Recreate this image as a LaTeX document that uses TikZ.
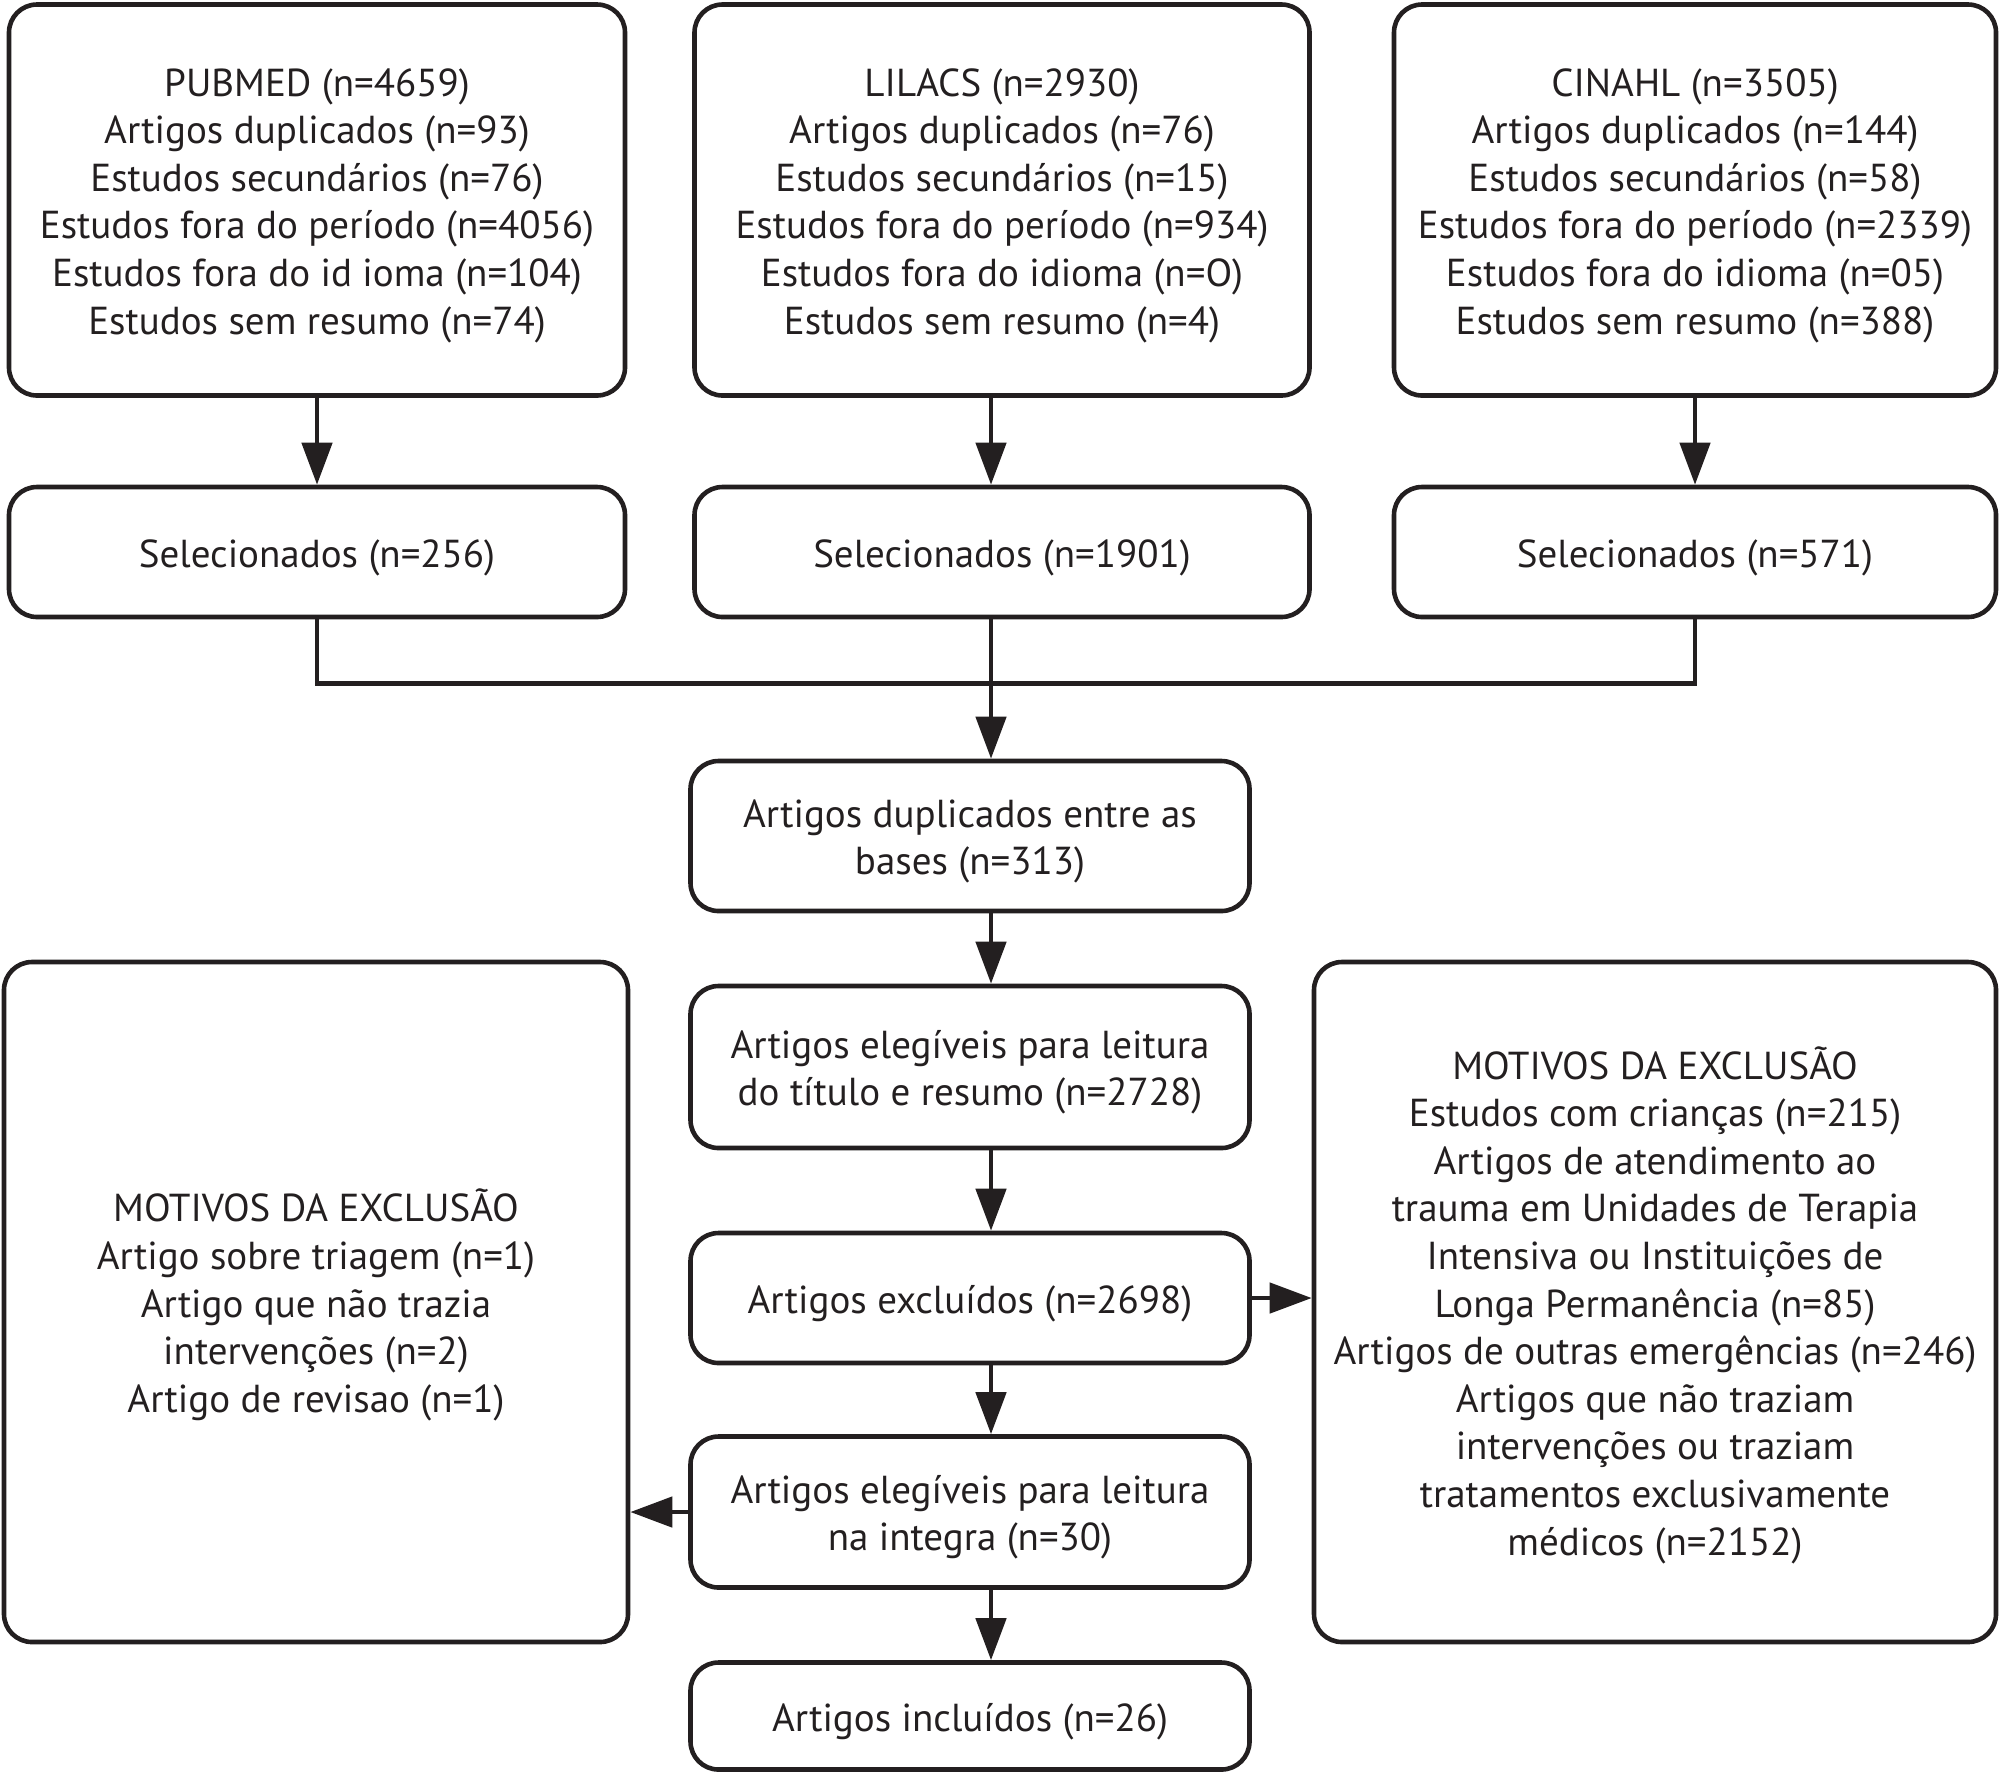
\documentclass[tikz,border=0pt]{standalone}
\usepackage{fontspec}
\setmainfont{PT Sans}
\usetikzlibrary{arrows.meta,calc}
\definecolor{ink}{HTML}{231F20}
\newcommand{\bxt}[1]{\raisebox{-2.8pt}[\height][\depth]{\begin{tabular}{@{}c@{}}#1\end{tabular}}}
\begin{document}
\begin{tikzpicture}[x=0.5pt,y=-0.5pt,
  box/.style={draw=ink,line width=2.3pt,rounded corners=14pt,align=center,
    inner sep=0pt,text=ink,font=\fontsize{19.5}{23.8}\selectfont},
  conn/.style={draw=ink,line width=2.3pt},
  arr/.style={conn,-{Triangle[length=21pt,width=15pt]}}]
\useasboundingbox (0,0) rectangle (2000,1774);
\coordinate (ax) at (991,0);
\node[box,minimum width=308pt,minimum height=195.5pt] (pub) at (317,200) {\bxt{PUBMED (n=4659)\\Artigos duplicados (n=93)\\Estudos secundários (n=76)\\Estudos fora do período (n=4056)\\Estudos fora do id ioma (n=104)\\Estudos sem resumo (n=74)}};
\node[box,minimum width=307.5pt,minimum height=195.5pt] (lil) at (1002,200) {\bxt{LILACS (n=2930)\\Artigos duplicados (n=76)\\Estudos secundários (n=15)\\Estudos fora do período (n=934)\\Estudos fora do idioma (n=O)\\Estudos sem resumo (n=4)}};
\node[box,minimum width=301pt,minimum height=195.5pt] (cin) at (1695,200) {\bxt{CINAHL (n=3505)\\Artigos duplicados (n=144)\\Estudos secundários (n=58)\\Estudos fora do período (n=2339)\\Estudos fora do idioma (n=05)\\Estudos sem resumo (n=388)}};
\node[box,minimum width=308pt,minimum height=65pt] (sel1) at (317,552) {\bxt{Selecionados (n=256)}};
\node[box,minimum width=307.5pt,minimum height=65pt] (sel2) at (1002,552) {\bxt{Selecionados (n=1901)}};
\node[box,minimum width=301pt,minimum height=65pt] (sel3) at (1695,552) {\bxt{Selecionados (n=571)}};
\node[box,minimum width=279.5pt,minimum height=75pt] (dup) at (970,836) {\bxt{Artigos duplicados entre as\\bases (n=313)}};
\node[box,minimum width=279.5pt,minimum height=81pt] (eleg) at (970,1067) {\bxt{Artigos elegíveis para leitura\\do título e resumo (n=2728)}};
\node[box,minimum width=279.5pt,minimum height=65pt] (excl) at (970,1298) {\bxt{Artigos excluídos (n=2698)}};
\node[box,minimum width=279.5pt,minimum height=75.5pt] (integ) at (970,1512) {\bxt{Artigos elegíveis para leitura\\na integra (n=30)}};
\node[box,minimum width=279.5pt,minimum height=53.5pt] (incl) at (970,1716) {\bxt{Artigos incluídos (n=26)}};
\node[box,minimum width=312pt,minimum height=340pt] (left) at (316,1302) {\bxt{MOTIVOS DA EXCLUSÃO\\Artigo sobre triagem (n=1)\\Artigo que não trazia\\intervenções (n=2)\\Artigo de revisao (n=1)}};
\node[box,minimum width=341pt,minimum height=340pt] (right) at (1655,1302) {\bxt{MOTIVOS DA EXCLUSÃO\\Estudos com crianças (n=215)\\Artigos de atendimento ao\\trauma em Unidades de Terapia\\Intensiva ou Instituições de\\Longa Permanência (n=85)\\Artigos de outras emergências (n=246)\\Artigos que não traziam\\intervenções ou traziam\\tratamentos exclusivamente\\médicos (n=2152)}};
\coordinate (mergeL) at ($(sel1.south)+(0,64)$);
\coordinate (mergeR) at ($(sel3.south)+(0,64)$);
\draw[arr] (pub.south) -- (sel1.north);
\draw[arr] (lil.south -| ax) -- (sel2.north -| ax);
\draw[arr] (cin.south) -- (sel3.north);
\draw[conn,line cap=rect] (sel1.south) -- (mergeL) -- (mergeR) -- (sel3.south);
\draw[arr] (sel2.south -| ax) -- (dup.north -| ax);
\draw[arr] (dup.south -| ax) -- (eleg.north -| ax);
\draw[arr] (eleg.south -| ax) -- (excl.north -| ax);
\draw[arr] (excl.south -| ax) -- (integ.north -| ax);
\draw[arr] (integ.south -| ax) -- (incl.north -| ax);
\draw[arr] (excl.east) -- (excl.east -| right.west);
\draw[arr] (integ.west) -- (integ.west -| left.east);
\end{tikzpicture}
\end{document}
